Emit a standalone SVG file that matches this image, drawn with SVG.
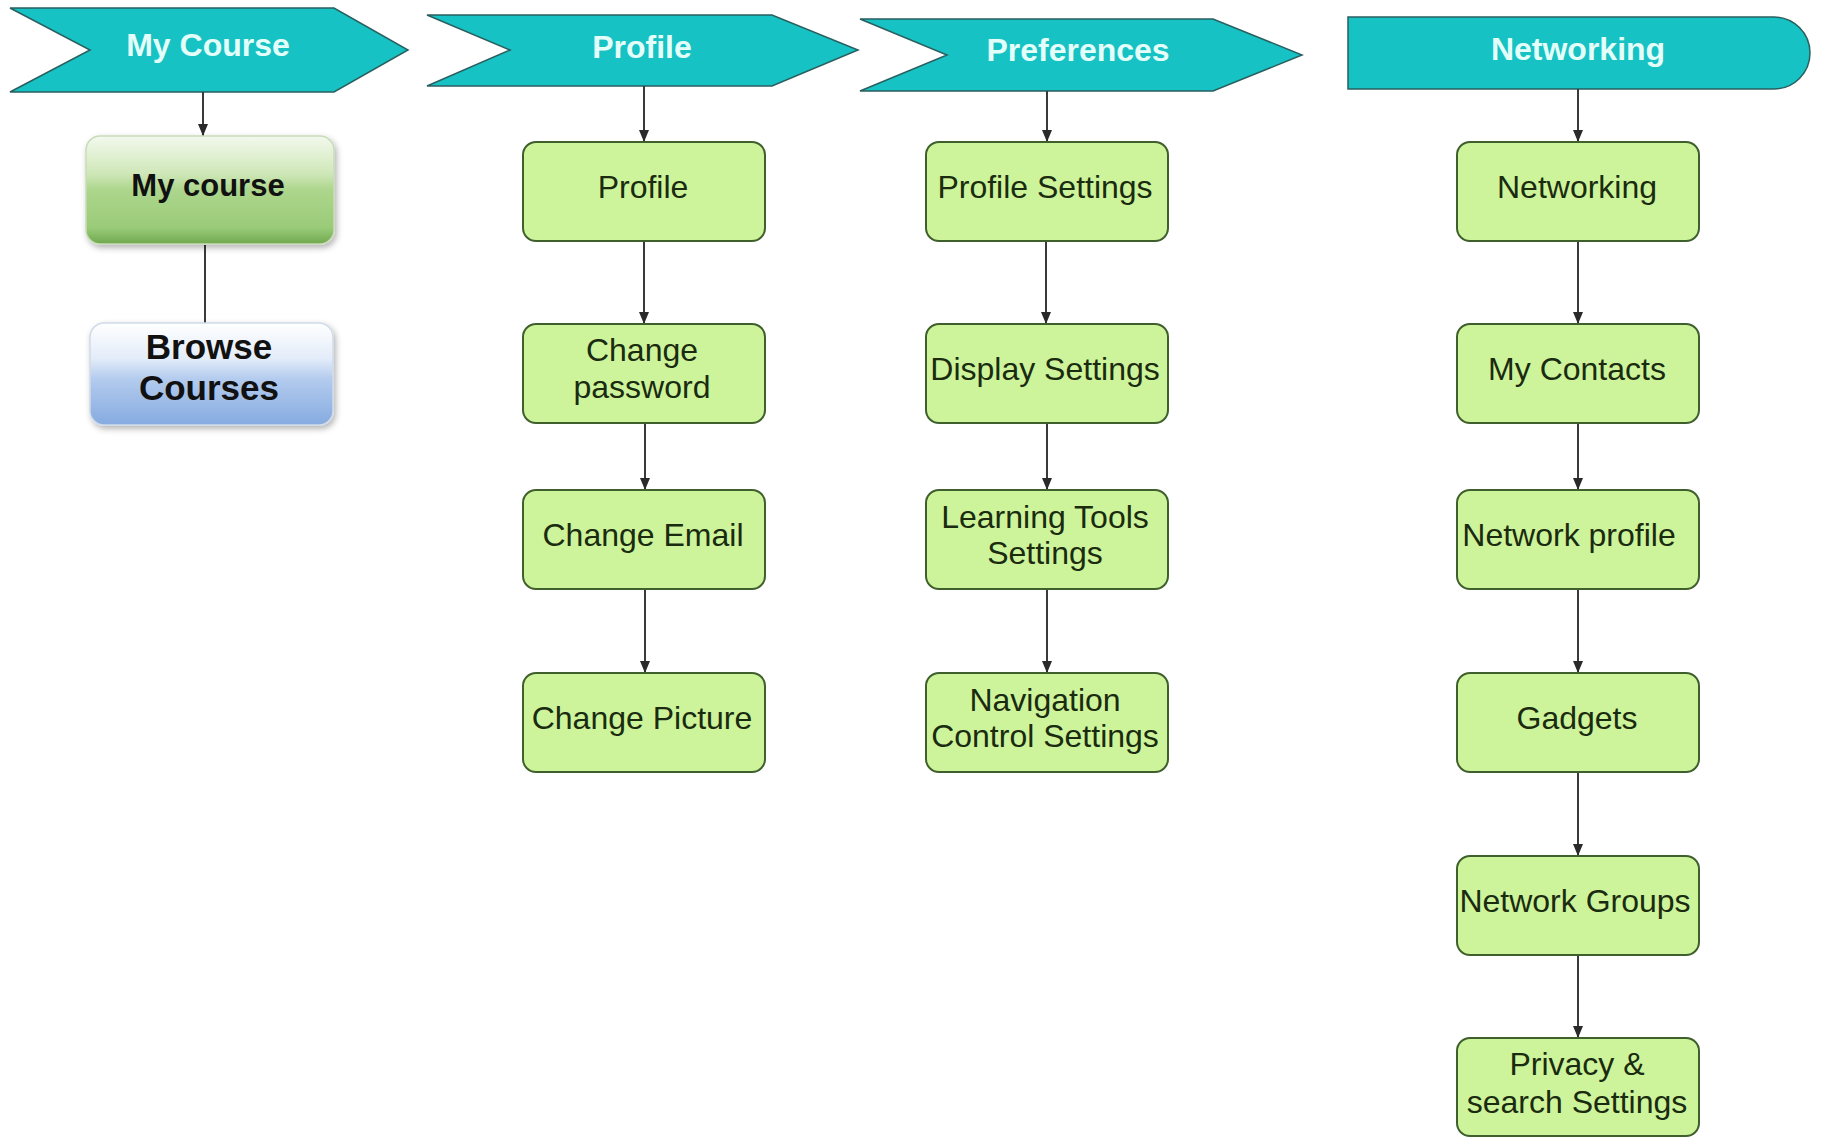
<svg xmlns="http://www.w3.org/2000/svg" width="1822" height="1137" viewBox="0 0 1822 1137">
  <defs>
    <style>
      .hdr { fill: #17c2c4; stroke: #2a5f5f; stroke-width: 1.5; }
      .hdrt { font-family: "Liberation Sans", Arial, sans-serif; font-weight: bold; font-size: 32px; fill: #e4fffa; text-anchor: middle; }
      .box { fill: #cdf49a; stroke: #3f5f2c; stroke-width: 2; }
      .bt { font-family: "Liberation Sans", Arial, sans-serif; font-size: 32px; fill: #1a2b10; text-anchor: middle; }
      .gt { font-family: "Liberation Sans", Arial, sans-serif; font-weight: bold; font-size: 31px; fill: #111; text-anchor: middle; }
      .gt2 { font-size: 35px; }
      .conn line { stroke: #3a3a3a; stroke-width: 2; }
      .arr { marker-end: url(#ah); }
    </style>
    <marker id="ah" markerUnits="userSpaceOnUse" markerWidth="12" markerHeight="12" refX="12" refY="6" orient="auto">
      <path d="M0,1 L12,6 L0,11 Z" fill="#2a2a2a"/>
    </marker>
    <linearGradient id="gGreen" x1="0" y1="0" x2="0" y2="1">
      <stop offset="0" stop-color="#f3f9ee"/>
      <stop offset="0.35" stop-color="#cfe7b8"/>
      <stop offset="0.5" stop-color="#acd68c"/>
      <stop offset="0.85" stop-color="#9acb78"/>
      <stop offset="1" stop-color="#6fa84e"/>
    </linearGradient>
    <linearGradient id="gBlue" x1="0" y1="0" x2="0" y2="1">
      <stop offset="0" stop-color="#ffffff"/>
      <stop offset="0.35" stop-color="#e3ecf9"/>
      <stop offset="0.55" stop-color="#b3cbee"/>
      <stop offset="1" stop-color="#86abe0"/>
    </linearGradient>
    <filter id="sh" x="-10%" y="-10%" width="125%" height="130%">
      <feDropShadow dx="2" dy="3" stdDeviation="3" flood-color="#000" flood-opacity="0.3"/>
    </filter>
  </defs>
  <rect width="1822" height="1137" fill="#ffffff"/>

  <!-- Headers -->
  <g id="hdr-mycourse">
    <path class="hdr" d="M10,8 L334,8 L408,50 L334,92 L10,92 L90,50 Z"/>
    <text class="hdrt" x="208" y="56">My Course</text>
  </g>
  <g id="hdr-profile">
    <path class="hdr" d="M427,15 L772,15 L858,50 L772,86 L427,86 L510,50 Z"/>
    <text class="hdrt" x="642" y="58">Profile</text>
  </g>
  <g id="hdr-preferences">
    <path class="hdr" d="M860,19 L1213,19 L1302,55 L1213,91 L860,91 L947,55 Z"/>
    <text class="hdrt" x="1078" y="61">Preferences</text>
  </g>
  <g id="hdr-networking">
    <path class="hdr" d="M1348,17 L1774,17 A36,36 0 0 1 1774,89 L1348,89 Z"/>
    <text class="hdrt" x="1578" y="60">Networking</text>
  </g>

  <!-- Connectors -->
  <g id="connectors" class="conn">
    <line class="arr" x1="203" y1="92" x2="203" y2="136"/>
    <line x1="205" y1="245" x2="205" y2="323"/>

    <line class="arr" x1="644" y1="86" x2="644" y2="142"/>
    <line class="arr" x1="644" y1="241" x2="644" y2="324"/>
    <line class="arr" x1="645" y1="423" x2="645" y2="490"/>
    <line class="arr" x1="645" y1="589" x2="645" y2="673"/>

    <line class="arr" x1="1047" y1="91" x2="1047" y2="142"/>
    <line class="arr" x1="1046" y1="241" x2="1046" y2="324"/>
    <line class="arr" x1="1047" y1="423" x2="1047" y2="490"/>
    <line class="arr" x1="1047" y1="589" x2="1047" y2="673"/>

    <line class="arr" x1="1578" y1="89" x2="1578" y2="142"/>
    <line class="arr" x1="1578" y1="241" x2="1578" y2="324"/>
    <line class="arr" x1="1578" y1="423" x2="1578" y2="490"/>
    <line class="arr" x1="1578" y1="589" x2="1578" y2="673"/>
    <line class="arr" x1="1578" y1="772" x2="1578" y2="856"/>
    <line class="arr" x1="1578" y1="955" x2="1578" y2="1038"/>
  </g>

  <!-- My Course column -->
  <g id="n-mycourse">
    <rect x="86" y="136" width="248" height="108" rx="14" fill="url(#gGreen)" stroke="#c9dcb9" stroke-width="1.5" filter="url(#sh)"/>
    <text class="gt" x="208" y="196">My course</text>
  </g>
  <g id="n-browse">
    <rect x="90" y="323" width="243" height="102" rx="14" fill="url(#gBlue)" stroke="#d0dbe9" stroke-width="1.5" filter="url(#sh)"/>
    <text class="gt gt2" x="209" y="359">Browse</text>
    <text class="gt gt2" x="209" y="400">Courses</text>
  </g>

  <!-- Profile column -->
  <g id="n-profile">
    <rect class="box" x="523" y="142" width="242" height="99" rx="13"/>
    <text class="bt" x="643" y="198">Profile</text>
  </g>
  <g id="n-changepassword">
    <rect class="box" x="523" y="324" width="242" height="99" rx="13"/>
    <text class="bt" x="642" y="361">Change</text>
    <text class="bt" x="642" y="398">password</text>
  </g>
  <g id="n-changeemail">
    <rect class="box" x="523" y="490" width="242" height="99" rx="13"/>
    <text class="bt" x="643" y="546">Change Email</text>
  </g>
  <g id="n-changepicture">
    <rect class="box" x="523" y="673" width="242" height="99" rx="13"/>
    <text class="bt" x="642" y="729">Change Picture</text>
  </g>

  <!-- Preferences column -->
  <g id="n-profilesettings">
    <rect class="box" x="926" y="142" width="242" height="99" rx="13"/>
    <text class="bt" x="1045" y="198">Profile Settings</text>
  </g>
  <g id="n-displaysettings">
    <rect class="box" x="926" y="324" width="242" height="99" rx="13"/>
    <text class="bt" x="1045" y="380">Display Settings</text>
  </g>
  <g id="n-learningtools">
    <rect class="box" x="926" y="490" width="242" height="99" rx="13"/>
    <text class="bt" x="1045" y="528">Learning Tools</text>
    <text class="bt" x="1045" y="564">Settings</text>
  </g>
  <g id="n-navigation">
    <rect class="box" x="926" y="673" width="242" height="99" rx="13"/>
    <text class="bt" x="1045" y="711">Navigation</text>
    <text class="bt" x="1045" y="747">Control Settings</text>
  </g>

  <!-- Networking column -->
  <g id="n-networking">
    <rect class="box" x="1457" y="142" width="242" height="99" rx="13"/>
    <text class="bt" x="1577" y="198">Networking</text>
  </g>
  <g id="n-mycontacts">
    <rect class="box" x="1457" y="324" width="242" height="99" rx="13"/>
    <text class="bt" x="1577" y="380">My Contacts</text>
  </g>
  <g id="n-networkprofile">
    <rect class="box" x="1457" y="490" width="242" height="99" rx="13"/>
    <text class="bt" x="1569" y="546">Network profile</text>
  </g>
  <g id="n-gadgets">
    <rect class="box" x="1457" y="673" width="242" height="99" rx="13"/>
    <text class="bt" x="1577" y="729">Gadgets</text>
  </g>
  <g id="n-networkgroups">
    <rect class="box" x="1457" y="856" width="242" height="99" rx="13"/>
    <text class="bt" x="1575" y="912">Network Groups</text>
  </g>
  <g id="n-privacy">
    <rect class="box" x="1457" y="1038" width="242" height="98" rx="13"/>
    <text class="bt" x="1577" y="1075">Privacy &amp;</text>
    <text class="bt" x="1577" y="1113">search Settings</text>
  </g>
</svg>
